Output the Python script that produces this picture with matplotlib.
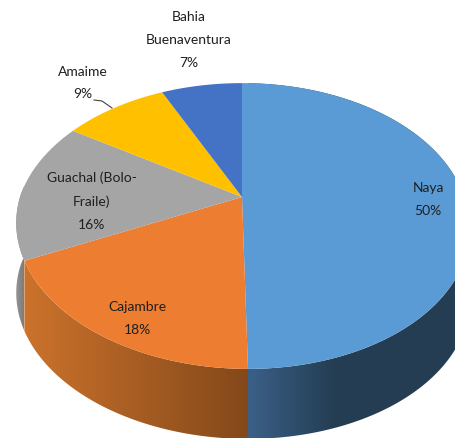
import numpy as np
import matplotlib
matplotlib.use("Agg")
import matplotlib.pyplot as plt
from matplotlib.colors import LinearSegmentedColormap
from matplotlib.patches import Polygon

categories = ["Naya", "Cajambre", "Guachal (Bolo-\nFraile)", "Amaime", "Bahia\nBuenaventura"]
shares = [50, 18, 16, 9, 7]
top_colors = ["#5B9BD5", "#ED7D31", "#A5A5A5", "#FFC000", "#4472C4"]

# wall shading, left to right
wall_ramps = [
    (248, 335, "#3B6088", "#243D52"),
    (22, 248, "#CC732C", "#84481A"),
    (14, 24, "#9A9A9A", "#7C7C7C"),
]

label_xy = [(428, 200), (137, 319), (92, 201), (83, 83), (189, 40)]

# fake 3D projection, tuned on the picture
CX, CY = 242, 198
SX, SY = 222, 137
K = 0.203
DEPTH = 70


def project(theta):
    x, y = np.sin(theta), np.cos(theta)
    w = 1 + K * y
    px = SX * x / w
    py = SY * y / w
    shift = np.where(py < 0, -py / 172 * 6, 0)
    return CX + px + shift, CY - py


fig = plt.figure(figsize=(4.56, 4.39), dpi=100)
ax = fig.add_axes([0, 0, 1, 1])
ax.set_xlim(0, 456)
ax.set_ylim(439, 0)
ax.axis("off")

edges = 2 * np.pi * np.cumsum([0] + shares) / sum(shares)

# =====================================
# Side walls (first three slices only)
# =====================================
for i, ramp in enumerate(wall_ramps):
    theta = np.linspace(edges[i], edges[i + 1], 200)
    x, y = project(theta)
    pts = np.column_stack([np.r_[x, x[::-1]], np.r_[y, y[::-1] + DEPTH]])
    poly = Polygon(pts, closed=True, fc="none", ec="none", transform=ax.transData)
    ax.add_patch(poly)
    cmap = LinearSegmentedColormap.from_list("wall", [ramp[2], ramp[3]])
    img = ax.imshow(
        np.linspace(0, 1, 256)[None, :],
        cmap=cmap,
        extent=(ramp[0], ramp[1], 439, 0),
        aspect="auto",
        zorder=1,
    )
    img.set_clip_path(poly)
    # flat colour past the end of the ramp
    if i == 0:
        rest = ax.imshow(
            np.array([[1.0]]),
            cmap=cmap,
            vmin=0,
            vmax=1,
            extent=(ramp[1], 456, 439, 0),
            aspect="auto",
            zorder=1,
        )
        rest.set_clip_path(poly)

ax.set_xlim(0, 456)
ax.set_ylim(439, 0)

# =====================================
# Top surface
# =====================================
for i, color in enumerate(top_colors):
    theta = np.linspace(edges[i], edges[i + 1], 200)
    x, y = project(theta)
    pts = np.column_stack([np.r_[CX, x], np.r_[CY, y]])
    ax.add_patch(Polygon(pts, closed=True, fc=color, ec="none", zorder=2))

# =====================================
# Labels
# =====================================
for name, share, (lx, ly) in zip(categories, shares, label_xy):
    ax.text(
        lx, ly, f"{name}\n{share}%",
        ha="center", va="center", ma="center",
        fontsize=10, family="Lato", color="#1f1f1f",
        linespacing=2.1, zorder=3,
    )

# leader line for Amaime
ax.plot([94, 102, 112], [101, 102, 109], color="#404040", lw=0.8, zorder=3)

fig.savefig("out.png", dpi=100)
